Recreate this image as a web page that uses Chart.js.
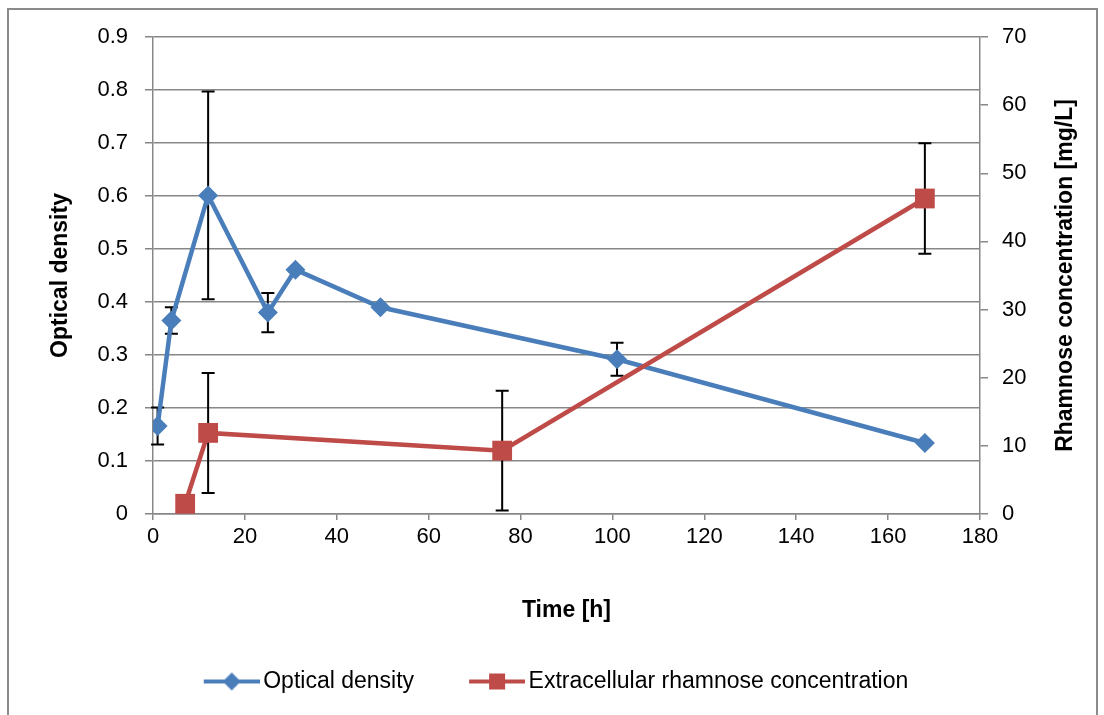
<!DOCTYPE html>
<html>
<head>
<meta charset="utf-8">
<script src="https://cdn.jsdelivr.net/npm/chart.js@4"></script>
<style>
  body { margin: 0; background: #fff; }
  #wrap { position: absolute; left: 0; top: 0; width: 1104px; height: 715px; }
</style>
</head>
<body>
<div id="wrap"><canvas id="graph"></canvas></div>
<script>
// temps de prélèvement (h) et valeurs
const odTimes = [1, 4, 12, 25, 31, 49.5, 101, 168];
const odValues = [0.166, 0.365, 0.601, 0.380, 0.461, 0.390, 0.292, 0.134];
const odErrors = [0.035, 0.025, 0.196, 0.037, 0, 0.005, 0.031, 0];

const rhaTimes = [7, 12, 76, 168];
const rhaValues = [1.5, 11.9, 9.3, 46.3];
const rhaErrors = [0, 8.8, 8.8, 8.1];

const xTicks = [0, 20, 40, 60, 80, 100, 120, 140, 160, 180];
const odTicks = [0, 0.1, 0.2, 0.3, 0.4, 0.5, 0.6, 0.7, 0.8, 0.9];
const rhaTicks = [0, 10, 20, 30, 40, 50, 60, 70];

const blue = '#4a7ebb';
const red = '#be4b48';
const gridGray = '#878787';
const font = "'Liberation Sans', Arial, sans-serif";
const rightTitle = 'Rhamnose concentration [mg/L]';

// petit dessin ligne + marqueur pour la légende (déborde de 8px à droite vers le texte)
function legendIcon(color, shape) {
  const c = document.createElement('canvas');
  c.width = 72; c.height = 22;
  const g = c.getContext('2d');
  g.strokeStyle = color; g.lineWidth = 4;
  g.beginPath(); g.moveTo(16, 11); g.lineTo(72, 11); g.stroke();
  g.fillStyle = color;
  g.beginPath();
  if (shape === 'diamond') {
    g.moveTo(44, 2); g.lineTo(53, 11); g.lineTo(44, 20); g.lineTo(35, 11);
  } else {
    g.rect(36, 3, 16, 16);
  }
  g.fill();
  return c;
}

// barres d'erreur, dessinées sous les courbes
const errorBars = {
  id: 'errorBars',
  beforeDatasetsDraw(chart) {
    const ctx = chart.ctx;
    ctx.save();
    ctx.strokeStyle = '#000';
    ctx.lineWidth = 2;
    chart.data.datasets.forEach(ds => {
      const yScale = chart.scales[ds.yAxisID];
      const xScale = chart.scales.x;
      ds.data.forEach((p, j) => {
        const e = ds.errors[j];
        if (!e) return;
        const x = xScale.getPixelForValue(p.x);
        const yTop = yScale.getPixelForValue(p.y + e);
        const yBot = yScale.getPixelForValue(p.y - e);
        ctx.beginPath();
        ctx.moveTo(x, yTop); ctx.lineTo(x, yBot);
        ctx.moveTo(x - 6.5, yTop); ctx.lineTo(x + 6.5, yTop);
        ctx.moveTo(x - 6.5, yBot); ctx.lineTo(x + 6.5, yBot);
        ctx.stroke();
      });
    });
    ctx.restore();
  }
};

// fond blanc, cadre, et titre de l'axe droit (lu de bas en haut comme dans Excel)
const frame = {
  id: 'frame',
  beforeDraw(chart) {
    const ctx = chart.ctx;
    ctx.save();
    ctx.fillStyle = '#fff';
    ctx.fillRect(0, 0, chart.width, chart.height);
    ctx.strokeStyle = '#8a8a8a';
    ctx.lineWidth = 2;
    ctx.beginPath();
    ctx.moveTo(8, chart.height + 2); ctx.lineTo(8, 9); ctx.lineTo(1097, 9); ctx.lineTo(1097, chart.height + 2);
    ctx.stroke();
    ctx.restore();
  },
  afterDraw(chart) {
    const ctx = chart.ctx;
    const s = chart.scales.y1;
    ctx.save();
    ctx.translate(1066, (s.top + s.bottom) / 2);
    ctx.rotate(-Math.PI / 2);
    ctx.fillStyle = '#000';
    ctx.font = 'bold 23px ' + font;
    ctx.textAlign = 'center';
    ctx.textBaseline = 'middle';
    ctx.fillText(rightTitle, 0, 0);
    ctx.restore();
  }
};

new Chart(document.getElementById('graph').getContext('2d'), {
  type: 'line',
  data: {
    datasets: [
      {
        label: 'Optical density',
        data: odTimes.map((t, i) => ({ x: t, y: odValues[i] })),
        errors: odErrors,
        yAxisID: 'y',
        borderColor: blue,
        backgroundColor: blue,
        borderWidth: 4.5,
        pointStyle: 'rectRot',
        pointRadius: 10,
        pointBorderWidth: 0,
        tension: 0,
        order: 1
      },
      {
        label: 'Extracellular rhamnose concentration',
        data: rhaTimes.map((t, i) => ({ x: t, y: rhaValues[i] })),
        errors: rhaErrors,
        yAxisID: 'y1',
        borderColor: red,
        backgroundColor: red,
        borderWidth: 4.5,
        pointStyle: 'rect',
        pointRadius: 14,
        pointBorderWidth: 0,
        tension: 0,
        order: 0
      }
    ]
  },
  options: {
    responsive: true,
    maintainAspectRatio: false,
    animation: false,
    layout: { padding: { top: 37, bottom: 12, left: 0, right: 0 } },
    plugins: {
      tooltip: { enabled: false },
      legend: {
        position: 'bottom',
        labels: {
          usePointStyle: true,
          pointStyleWidth: 56,
          padding: 47,
          color: '#000',
          font: { family: font, size: 23 },
          generateLabels: function(chart) {
            return [
              { text: 'Optical density', pointStyle: legendIcon(blue, 'diamond'), fillStyle: blue, strokeStyle: blue, lineWidth: 0, datasetIndex: 0 },
              { text: 'Extracellular rhamnose concentration', pointStyle: legendIcon(red, 'square'), fillStyle: red, strokeStyle: red, lineWidth: 0, datasetIndex: 1 }
            ];
          }
        }
      }
    },
    scales: {
      x: {
        type: 'linear',
        min: 0, max: 180,
        afterFit: s => { s.height = 109; },
        afterBuildTicks: s => { s.ticks = xTicks.map(v => ({ value: v })); },
        grid: { drawOnChartArea: false, color: gridGray, tickLength: 6, lineWidth: 1.5 },
        border: { color: gridGray, width: 1.5 },
        ticks: { color: '#000', padding: 4, maxRotation: 0, font: { family: font, size: 22 } },
        title: { display: true, text: 'Time [h]', color: '#000', font: { family: font, size: 23, weight: 'bold' }, padding: { top: 0, bottom: -1 } }
      },
      y: {
        position: 'left',
        min: 0, max: 0.9,
        afterFit: s => { s.width = 153; },
        afterBuildTicks: s => { s.ticks = odTicks.map(v => ({ value: v })); },
        grid: { color: gridGray, tickLength: 8, lineWidth: 1.5 },
        border: { color: gridGray, width: 1.5 },
        ticks: { color: '#000', padding: 17, font: { family: font, size: 22 }, callback: v => String(Math.round(v * 10) / 10) },
        title: { display: true, text: 'Optical density', color: '#000', font: { family: font, size: 23, weight: 'bold' }, padding: { top: 47, bottom: 0 } }
      },
      y1: {
        position: 'right',
        min: 0, max: 70,
        afterFit: s => { s.width = 124; },
        afterBuildTicks: s => { s.ticks = rhaTicks.map(v => ({ value: v })); },
        grid: { drawOnChartArea: false, color: gridGray, tickLength: 8, lineWidth: 1.5 },
        border: { color: gridGray, width: 1.5 },
        ticks: { color: '#000', padding: 14, font: { family: font, size: 22 } },
        title: { display: false }
      }
    }
  },
  plugins: [frame, errorBars]
});
</script>
</body>
</html>
